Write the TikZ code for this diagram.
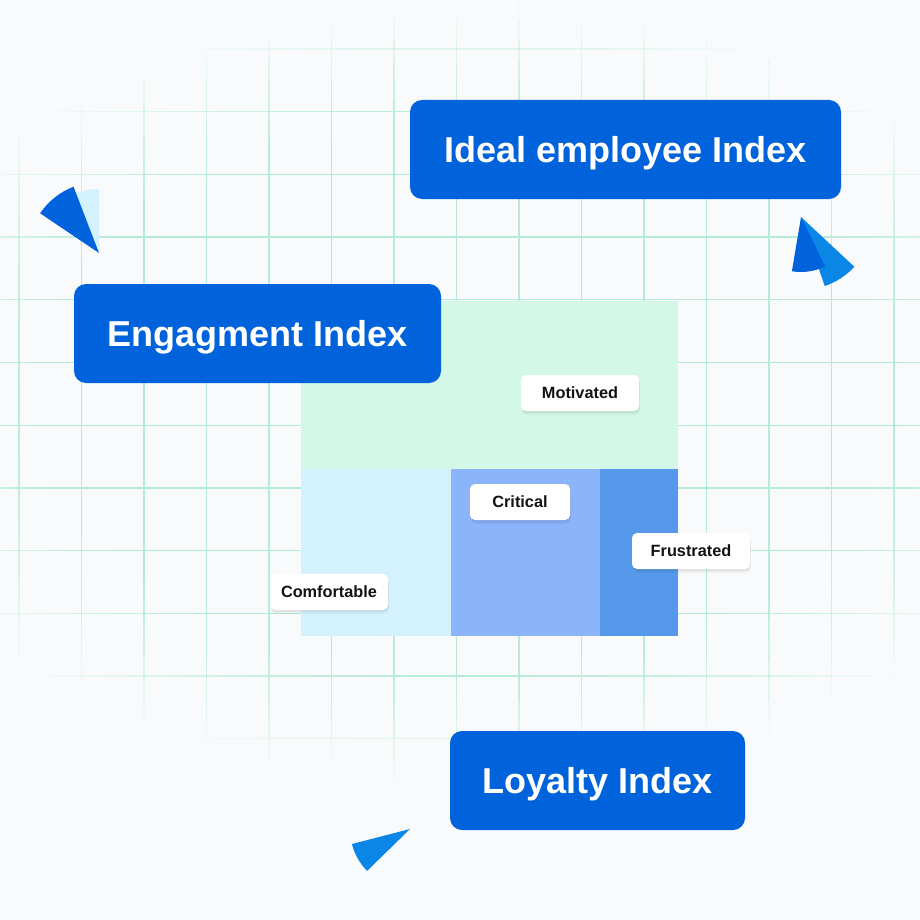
\documentclass[tikz,border=0pt]{standalone}
\usepackage{fontspec}
\setmainfont{Liberation Sans}
\usetikzlibrary{shadows}
\definecolor{bg}{HTML}{F8FAFC}
\definecolor{gridc}{HTML}{B5ECD5}
\definecolor{boxblue}{HTML}{0063DC}
\definecolor{mint}{HTML}{D3F8E7}
\definecolor{cyanl}{HTML}{D4F2FE}
\definecolor{bluem}{HTML}{8BB4FB}
\definecolor{blued}{HTML}{5698E9}
\definecolor{shapel}{HTML}{0A86E6}
\definecolor{textdark}{HTML}{121212}
\tikzset{
  bigbox/.style={fill=boxblue, rounded corners=12pt, text=white,
    font=\fontsize{36}{40}\selectfont\bfseries, minimum height=99pt,
    inner sep=0pt, text height=25.8pt, text depth=0pt},
  tag/.style={fill=white, rounded corners=5pt, text=textdark,
    font=\fontsize{16.3}{18}\selectfont\bfseries, minimum height=36pt,
    inner sep=0pt, text height=11.7pt, text depth=0pt,
    general shadow={fill=black, opacity=0.04, shadow yshift=-4pt, shadow xshift=1pt},
    general shadow={fill=black, opacity=0.06, shadow yshift=-2pt, shadow xshift=0.5pt}},
  gridline/.style={draw=gridc, line width=1.3pt}
}
\begin{document}
\begin{tikzpicture}[x=1pt,y=-1pt]
\fill[bg] (0,0) rectangle (920,920);
\useasboundingbox (0,0) rectangle (920,920);
% grid with elliptical fade (segment-wise opacity)
\foreach \i in {0,...,11} {
  \pgfmathsetmacro{\yy}{49+62.7*\i}
  \foreach \k in {0,...,46} {
    \pgfmathsetmacro{\xa}{-10+20*\k}
    \pgfmathsetmacro{\op}{max(0,min(1,(1-sqrt(((\xa+10-465)/620)^2+((\yy-395)/390)^2))/0.3))}
    \draw[gridline, opacity=\op] (\xa,\yy) -- ++(20,0);
  }
}
\foreach \j in {0,...,14} {
  \pgfmathsetmacro{\xx}{19+62.5*\j}
  \foreach \k in {0,...,39} {
    \pgfmathsetmacro{\ya}{20*\k}
    \pgfmathsetmacro{\op}{max(0,min(1,(1-sqrt(((\xx-465)/620)^2+((\ya+10-395)/390)^2))/0.3))}
    \draw[gridline, opacity=\op] (\xx,\ya) -- ++(0,20);
  }
}
% quadrant blocks
\fill[mint] (301,301) rectangle (678,469);
\fill[cyanl] (301,469) rectangle (451,636);
\fill[bluem] (451,469) rectangle (600,636);
\fill[blued] (600,469) rectangle (678,636);
% decorative wedges
\fill[cyanl] (99,253) -- ++(-113:64) arc[start angle=-113, end angle=-90, radius=64] -- cycle;
\fill[boxblue] (99,253) -- ++(-146:71) arc[start angle=-146, end angle=-111, radius=71] -- cycle;
\fill[shapel] (801,217) -- ++(43:73) arc[start angle=43, end angle=71, radius=73] -- cycle;
\fill[boxblue] (801,217) -- ++(64:55) arc[start angle=64, end angle=99.5, radius=55] -- cycle;
\fill[shapel] (410,829) -- ++(135.7:60) arc[start angle=135.7, end angle=165.5, radius=60] -- cycle;
% big index boxes
\node[bigbox, minimum width=431pt] (ideal) at (625.5,149.5) {Ideal employee Index};
\node[bigbox, minimum width=367pt] (eng) at (257.5,333.5) {Engagment Index};
\node[bigbox, minimum width=295pt] (loy) at (597.5,780.5) {Loyalty Index};
% tags
\node[tag, minimum width=118pt] (mot) at (580,393) {Motivated};
\node[tag, minimum width=100pt] (crit) at (520,502) {Critical};
\node[tag, minimum width=118pt] (fru) at (691,551) {Frustrated};
\node[tag, minimum width=118pt] (com) at (329,592) {Comfortable};
\end{tikzpicture}
\end{document}
